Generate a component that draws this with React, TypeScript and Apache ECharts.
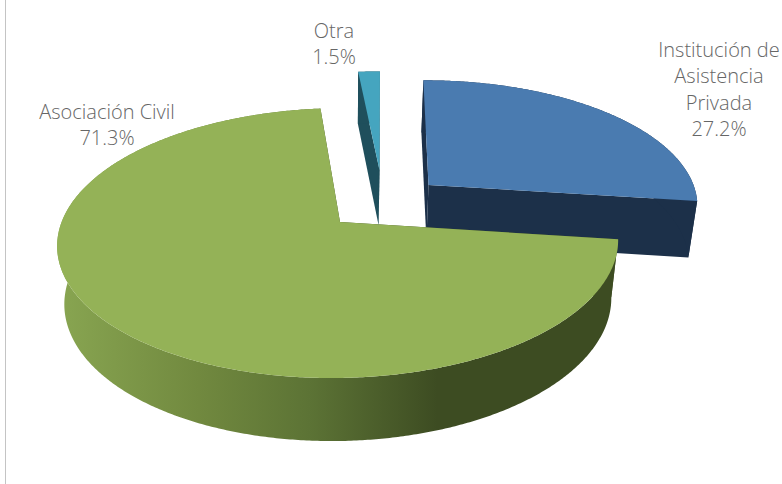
import React, { useEffect, useRef } from "react";
import * as echarts from "echarts";

const categories = ["Otra", "Institución de\nAsistencia\nPrivada", "Asociación Civil"];
const shares = [1.5, 27.2, 71.3];
const topColors = ["#45a5bf", "#4a7bb0", "#94b257"];
const sideColors = ["#1f4f5c", "#1c3049", "#3d4c22"];
const START_ANGLE = -95.9;

// per-slice projection of the exploded slices (perspective pie plane)
const planes = [
  { ax: 379.5, ay: 170, r: 267, rk: 114, p: 0.156, q: 0, skew: -0.025 },
  { ax: 428.5, ay: 185, r: 265, rk: 121, p: 0.156, q: 0, skew: 0.03 },
  { ax: 340, ay: 222, r: 277, rk: 131.7, p: 0.156, q: 0.005, skew: -0.045 },
];
const labelPos = [
  [334, 30],
  [719, 49],
  [107, 111],
];

const project = (pl: any, deg: number): number[] => {
  const a = (deg * Math.PI) / 180;
  const X = Math.cos(a);
  const Y = Math.sin(a);
  const w = 1 - pl.p * Y + pl.q * X;
  const dy = (pl.rk * Y) / w;
  return [pl.ax + (pl.r * X) / w + pl.skew * dy, pl.ay + dy];
};
const drop = (pt: number[]): number[] => [345 + (pt[0] - 345) * 0.975, pt[1] + 49.4 + 0.036 * pt[1]];

const sliceRanges = (() => {
  let a = START_ANGLE;
  const total = shares.reduce((s, v) => s + v, 0);
  return shares.map((v) => {
    const from = a;
    a += (v / total) * 360;
    return [from, a];
  });
})();

export default function App() {
  const ref = useRef<HTMLDivElement>(null);
  useEffect(() => {
    const chart = echarts.init(ref.current!, undefined, { renderer: "svg" });
    const renderItem = (params: any) => {
      const i = params.dataIndex;
      const pl = planes[i];
      const [from, to] = sliceRanges[i];
      const arc: number[][] = [];
      const n = Math.max(4, Math.ceil((to - from) * 2));
      for (let k = 0; k <= n; k++) arc.push(project(pl, from + ((to - from) * k) / n));
      const apex = [pl.ax, pl.ay];
      const bottomArc = arc.map(drop).reverse();
      const side: any =
        i === 2
          ? {
              type: "linear",
              x: 60,
              y: 0,
              x2: 615,
              y2: 0,
              global: true,
              colorStops: [
                { offset: 0, color: "#88a551" },
                { offset: 0.25, color: "#71893f" },
                { offset: 0.45, color: "#5c7335" },
                { offset: 0.68, color: sideColors[i] },
                { offset: 1, color: sideColors[i] },
              ],
            }
          : sideColors[i];
      const poly = (points: number[][], fill: any) => ({
        type: "polygon",
        shape: { points },
        style: { fill, stroke: "none" },
      });
      return {
        type: "group",
        children: [
          poly([apex, arc[0], drop(arc[0]), drop(apex)], sideColors[i]),
          poly([apex, arc[n], drop(arc[n]), drop(apex)], sideColors[i]),
          poly([...arc, ...bottomArc], side),
          poly([apex, ...arc], topColors[i]),
        ],
      };
    };
    chart.setOption({
      animation: false,
      backgroundColor: "#ffffff",
      xAxis: { show: false },
      yAxis: { show: false },
      graphic: [
        { type: "line", shape: { x1: 5.5, y1: 0, x2: 5.5, y2: 484 }, style: { stroke: "#c4c4c4", lineWidth: 1 } },
        ...categories.map((c, i) => ({
          type: "text",
          x: labelPos[i][0],
          y: labelPos[i][1] - 13,
          style: {
            text: `${c}\n${shares[i].toFixed(1)}%`,
            fill: "#666666",
            font: "300 20px 'Open Sans'",
            lineHeight: 26.5,
            align: "center",
            verticalAlign: "top",
          },
        })),
      ],
      series: [
        {
          type: "custom",
          coordinateSystem: "none",
          renderItem,
          data: shares,
          silent: true,
        },
      ],
    });
    return () => chart.dispose();
  }, []);
  return <div ref={ref} style={{ position: "fixed", left: 0, top: 0, width: 782, height: 484 }} />;
}
